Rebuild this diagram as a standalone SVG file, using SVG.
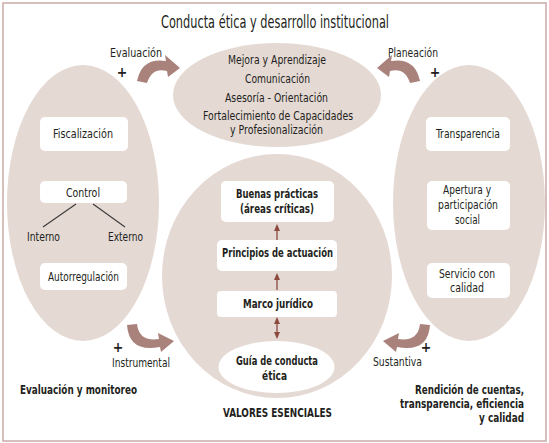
<svg xmlns="http://www.w3.org/2000/svg" width="549" height="443" viewBox="0 0 549 443">
<defs>
<style>
text{font-family:"Liberation Sans Narrow","DejaVu Sans Condensed","Liberation Sans",sans-serif;fill:#231f20;font-size:13px;text-anchor:middle}
.b{font-weight:bold;font-size:12.5px}
.t{font-size:17px}
.s{font-size:12px}
.r{text-anchor:end;font-size:12px}
.bg{fill:#e5d9d4}
.box{fill:#ffffff}
.sw{fill:#a9827c}
.sa{stroke:#8c4a3e;stroke-width:1.3;fill:none}
.ah{fill:#8c4a3e}
.ln{stroke:#3a3a3a;stroke-width:1.1}
.pl{font-size:14px;font-weight:bold}
</style>
</defs>
<rect x="3" y="3" width="543" height="438" fill="#ffffff" stroke="#c9aaa6" stroke-width="1.5"/>
<text class="t" x="275" y="28" textLength="228" lengthAdjust="spacingAndGlyphs">Conducta ética y desarrollo institucional</text>

<g id="left-ellipse">
<ellipse class="bg" cx="83" cy="203" rx="76" ry="138"/>
<g id="fiscalizacion"><rect class="box" x="40" y="117" width="88" height="34" rx="5"/><text x="83" y="138" textLength="60" lengthAdjust="spacingAndGlyphs">Fiscalización</text></g>
<g id="control"><rect class="box" x="40" y="181" width="87" height="22" rx="5"/><text x="83" y="197" textLength="34" lengthAdjust="spacingAndGlyphs">Control</text></g>
<g id="interno"><text x="43.5" y="241" textLength="33" lengthAdjust="spacingAndGlyphs">Interno</text></g>
<g id="externo"><text x="125.5" y="241" textLength="35" lengthAdjust="spacingAndGlyphs">Externo</text></g>
<g id="autorregulacion"><rect class="box" x="40" y="263" width="87" height="27" rx="5"/><text x="83.5" y="281" textLength="71" lengthAdjust="spacingAndGlyphs">Autorregulación</text></g>
</g>

<g id="right-ellipse">
<ellipse class="bg" cx="469" cy="203" rx="76" ry="138"/>
<g id="transparencia"><rect class="box" x="426" y="117" width="84" height="34" rx="5"/><text x="468" y="138" textLength="64" lengthAdjust="spacingAndGlyphs">Transparencia</text></g>
<g id="apertura"><rect class="box" x="427" y="181" width="83" height="49" rx="5"/><text x="467" y="194" textLength="48" lengthAdjust="spacingAndGlyphs">Apertura y</text><text x="468" y="209" textLength="60" lengthAdjust="spacingAndGlyphs">participación</text><text x="467.5" y="224" textLength="25" lengthAdjust="spacingAndGlyphs">social</text></g>
<g id="servicio"><rect class="box" x="427" y="263" width="83" height="35" rx="5"/><text class="s" x="467" y="278" textLength="56" lengthAdjust="spacingAndGlyphs">Servicio con</text><text class="s" x="467" y="292" textLength="34" lengthAdjust="spacingAndGlyphs">calidad</text></g>
</g>

<g id="top-ellipse">
<ellipse class="bg" cx="277" cy="95" rx="104" ry="52"/>
<text x="277" y="64" textLength="98" lengthAdjust="spacingAndGlyphs">Mejora y Aprendizaje</text>
<text x="277.5" y="83" textLength="65" lengthAdjust="spacingAndGlyphs">Comunicación</text>
<text x="276.5" y="102" textLength="103" lengthAdjust="spacingAndGlyphs">Asesoría - Orientación</text>
<text class="s" x="278" y="120" textLength="150" lengthAdjust="spacingAndGlyphs">Fortalecimiento de Capacidades</text>
<text class="s" x="276.5" y="134" textLength="93" lengthAdjust="spacingAndGlyphs">y Profesionalización</text>
</g>

<g id="center-circle">
<ellipse class="bg" cx="277" cy="276" rx="115" ry="122"/>
<g id="buenas"><rect class="box" x="221" y="181" width="113" height="41" rx="5"/><text class="b" x="277" y="198" textLength="82" lengthAdjust="spacingAndGlyphs">Buenas prácticas</text><text class="b" x="277" y="213" textLength="74" lengthAdjust="spacingAndGlyphs">(áreas críticas)</text></g>
<g id="principios"><rect class="box" x="217" y="240" width="120" height="31" rx="5"/><text class="b" x="277.5" y="257" textLength="111" lengthAdjust="spacingAndGlyphs">Principios de actuación</text></g>
<g id="marco"><rect class="box" x="217" y="291" width="120" height="26" rx="4"/><text class="b" x="278" y="308" textLength="70" lengthAdjust="spacingAndGlyphs">Marco jurídico</text></g>
<g id="guia"><ellipse class="box" cx="276.5" cy="367" rx="58" ry="26"/><text class="b" x="277" y="365" textLength="82" lengthAdjust="spacingAndGlyphs">Guía de conducta</text><text class="b" x="274.5" y="380" textLength="25" lengthAdjust="spacingAndGlyphs">ética</text></g>
</g>

<g id="connectors">
<line class="ln" x1="76" y1="204" x2="43" y2="227"/>
<line class="ln" x1="93" y1="204" x2="125" y2="227"/>
<line class="sa" x1="277" y1="240" x2="277" y2="229"/>
<polygon class="ah" points="277,224 274,231 280,231"/>
<line class="sa" x1="277" y1="290" x2="277" y2="278"/>
<polygon class="ah" points="277,273 274,280 280,280"/>
<line class="sa" x1="277" y1="322" x2="277" y2="334"/>
<polygon class="ah" points="277,317 274,324 280,324"/>
<polygon class="ah" points="277,339 274,332 280,332"/>
<path class="sw" d="M137,81 Q142,57 166,61 L165,55 L180,68 L168,77 L167,71 Q152,67 147,83 Z"/>
<path class="sw" d="M420,81 Q415,57 391,61 L392,55 L377,68 L389,77 L390,71 Q405,67 410,83 Z"/>
<path class="sw" d="M127,325 Q129,353 160,347 L161,352 L174,341 L158,333 L159,339 Q139,342 137,324 Z"/>
<path class="sw" d="M430,325 Q428,353 397,347 L396,352 L383,341 L399,333 L398,339 Q418,342 420,324 Z"/>
</g>

<g id="labels">
<text x="136" y="57" textLength="52" lengthAdjust="spacingAndGlyphs">Evaluación</text>
<text class="pl" x="122" y="77">+</text>
<text x="413" y="57" textLength="50" lengthAdjust="spacingAndGlyphs">Planeación</text>
<text class="pl" x="435" y="77">+</text>
<text class="pl" x="118" y="352">+</text>
<text x="141" y="367" textLength="58" lengthAdjust="spacingAndGlyphs">Instrumental</text>
<text class="pl" x="426" y="352">+</text>
<text x="397.5" y="366" textLength="49" lengthAdjust="spacingAndGlyphs">Sustantiva</text>
<text class="b" x="78.5" y="394" textLength="117" lengthAdjust="spacingAndGlyphs">Evaluación y monitoreo</text>
<text class="b" x="277.5" y="417" textLength="109" lengthAdjust="spacingAndGlyphs">VALORES ESENCIALES</text>
<text class="b r" x="524" y="394" textLength="109" lengthAdjust="spacingAndGlyphs">Rendición de cuentas,</text>
<text class="b r" x="524" y="408" textLength="124" lengthAdjust="spacingAndGlyphs">transparencia, eficiencia</text>
<text class="b r" x="524" y="422" textLength="45" lengthAdjust="spacingAndGlyphs">y calidad</text>
</g>
</svg>
